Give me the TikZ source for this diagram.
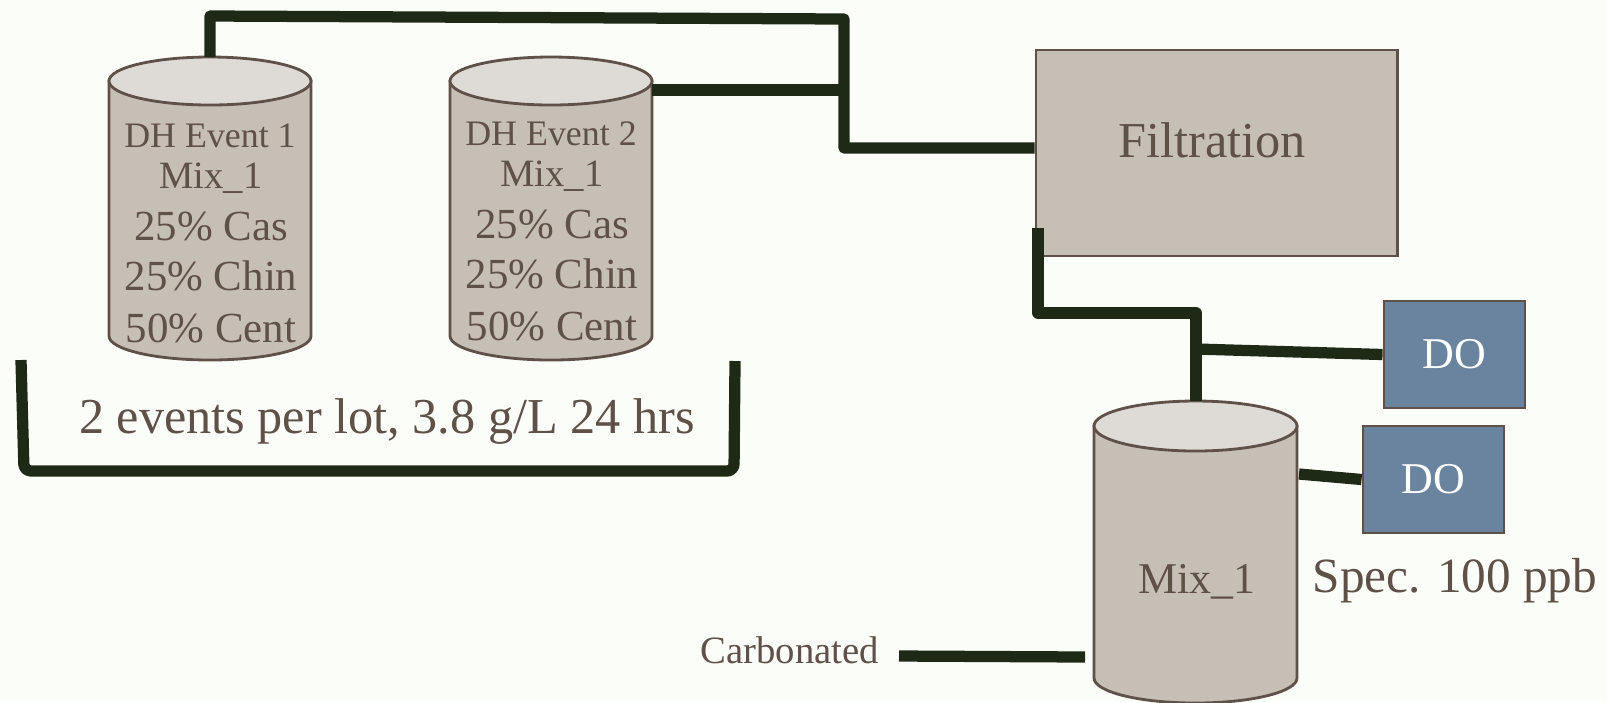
\documentclass[tikz,border=0pt]{standalone}
\usepackage{fontspec}
\setmainfont{Liberation Serif}
\usetikzlibrary{positioning}

\definecolor{pipegreen}{RGB}{31,42,22}
\definecolor{tankgray}{RGB}{198,191,181}
\definecolor{lidgray}{RGB}{222,219,215}
\definecolor{edgebrown}{RGB}{95,80,72}
\definecolor{dotblue}{RGB}{106,132,160}
\definecolor{paper}{RGB}{251,253,249}

\tikzset{
  pipe/.style={line width=3.2pt, draw=pipegreen, line join=round},
  tankbody/.style={fill=tankgray, draw=edgebrown, line width=0.8pt},
  tanklid/.style={fill=lidgray, draw=edgebrown, line width=0.8pt},
  filtbox/.style={fill=tankgray, draw=edgebrown, line width=0.8pt, minimum width=3.61cm, minimum height=2.06cm, inner sep=0pt},
  dobox/.style={fill=dotblue, draw=edgebrown, line width=0.8pt, minimum width=1.41cm, minimum height=1.07cm, inner sep=0pt, text=white, font=\fontsize{12.5}{14}\selectfont},
  evtxt/.style={text=edgebrown, inner sep=0pt, anchor=base, font=\fontsize{10.2}{12}\selectfont},
  mixtxt/.style={text=edgebrown, inner sep=0pt, anchor=base, font=\fontsize{11}{13}\selectfont},
  pcttxt/.style={text=edgebrown, inner sep=0pt, anchor=base, font=\fontsize{12.2}{14}\selectfont},
  bigtxt/.style={text=edgebrown, inner sep=0pt, anchor=base, font=\fontsize{14.3}{16}\selectfont},
  smalltxt/.style={text=edgebrown, inner sep=0pt, anchor=base west, font=\fontsize{11}{13}\selectfont}
}

% tanque: centro x, raio x, topo y, fundo y, raio y
\newcommand{\drawtank}[5]{%
  \draw[tankbody] (#1-#2,#3) -- (#1-#2,#4)
    arc[start angle=180, end angle=0, x radius=#2, y radius=#5] -- (#1+#2,#3) -- cycle;
  \draw[tanklid] (#1,#3) ellipse [x radius=#2, y radius=#5];
}

\begin{document}
\begin{tikzpicture}[x=0.01cm, y=-0.01cm]
      \useasboundingbox (0,0) rectangle (1607,702);
      \fill[paper] (0,0) rectangle (1607,702);

      % Tanque 1
      \drawtank{210}{101}{81}{336}{24}
      \node[evtxt] (ev1name) at (210,147) {DH Event 1};
      \node[mixtxt] (ev1mix) at (211,188) {Mix\_1};
      \node[pcttxt] (ev1cas) at (211,240) {25\% Cas};
      \node[pcttxt] (ev1chin) at (211,290) {25\% Chin};
      \node[pcttxt] (ev1cent) at (211,342) {50\% Cent};
      % Tanque 2
      \drawtank{551}{101}{81}{336}{24}
      \node[evtxt] (ev2name) at (551,145) {DH Event 2};
      \node[mixtxt] (ev2mix) at (552,186) {Mix\_1};
      \node[pcttxt] (ev2cas) at (552,238) {25\% Cas};
      \node[pcttxt] (ev2chin) at (552,288) {25\% Chin};
      \node[pcttxt] (ev2cent) at (552,340) {50\% Cent};

      % Chave dos eventos
      \draw[pipe, rounded corners=2pt] (21,360) -- (24,471) -- (734,471) -- (735,361);
      \node[bigtxt] (lotinfo) at (387,433) {2 events per lot, 3.8 g/L 24 hrs};

      % Filtracao
      \node[filtbox] (filt) at (1216.5,153) {};
      \node[bigtxt] (filtname) at (1212,157) {Filtration};

      % Tanque de mistura
      \drawtank{1195.5}{101.5}{426}{678}{25}
      \node[pcttxt, font=\fontsize{12.5}{14}\selectfont] (mixname) at (1197,593) {Mix\_1};

      % Sensores DO
      \node[dobox] (do1) at (1454.5,354.5) {DO};
      \node[dobox] (do2) at (1433.5,479.5) {DO};
      \node[smalltxt, font=\fontsize{14}{16}\selectfont] (spec) at (1312,592) {Spec. 100 ppb};
      \node[smalltxt] (carb) at (700,663) {Carbonated};

      % Tubulacao
      \coordinate (t1top) at (210,57);
      \coordinate (t2right) at (652,90);
      \coordinate (jct) at (844,90);
      \coordinate (filtout) at (1038,228);
      \coordinate (tee) at (1196,349);
      \coordinate (mixtop) at (1196,401);
      \coordinate (mixright) at (1299,474);
      \coordinate (carbstart) at (899,656);
      \coordinate (carbend) at (1085,657);

      \draw[pipe] (t1top) -- (210,16) -- (844,19) -- (844,148) -- (filt.west |- 844,148);
      \draw[pipe] (t2right) -- (jct);
      \draw[pipe] (filtout) |- (1196,313) -- (mixtop);
      \draw[pipe] (tee) -- (do1.west);
      \draw[pipe] (mixright) -- (do2.west);
      \draw[pipe] (carbstart) -- (carbend);
\end{tikzpicture}
\end{document}
